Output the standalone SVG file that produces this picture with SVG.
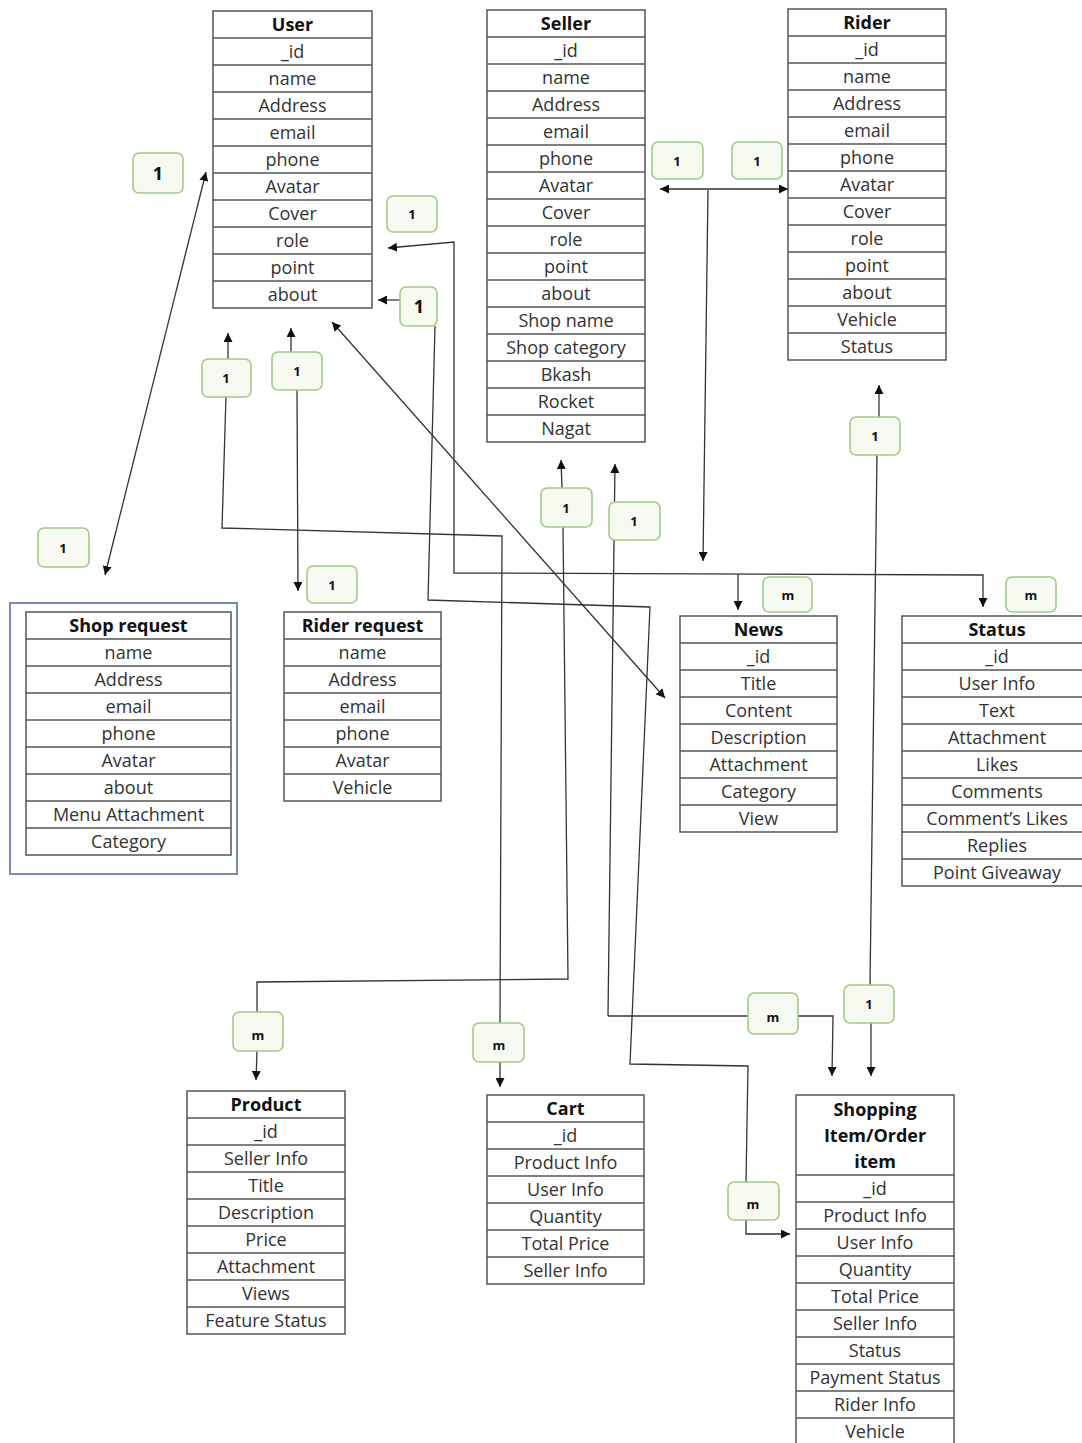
<svg xmlns="http://www.w3.org/2000/svg" width="1082" height="1443" viewBox="0 0 1082 1443">
<style>
.bg{fill:#fff}
.box{fill:#fff;stroke:#555;stroke-width:1.5}
.sep{fill:none;stroke:#555;stroke-width:1.5}
.frame{fill:none;stroke:#7b8bb0;stroke-width:2}
.t{font-family:"Open Sans","Liberation Sans",sans-serif;font-size:18px;fill:#333;text-anchor:middle}
.h{font-weight:bold;fill:#111}
.conn{fill:none;stroke:#333;stroke-width:1.3}
.lbl rect{fill:#f6faf1;stroke:#a2c986;stroke-width:1.6}
.lbl text{font-family:"Open Sans","Liberation Sans",sans-serif;font-size:13px;font-weight:bold;fill:#111;text-anchor:middle}
.lbl text.big{font-size:18px}
</style>
<defs>
<marker id="a" viewBox="0 0 10 10" refX="10" refY="5" markerWidth="9" markerHeight="9" markerUnits="userSpaceOnUse" orient="auto-start-reverse">
<path d="M0,0 L10,5 L0,10 z" fill="#111"/>
</marker>
</defs>
<rect class="bg" x="0" y="0" width="1082" height="1443"/>

<g id="connectors">
<path class="conn" d="M206,172 L105,575" marker-start="url(#a)" marker-end="url(#a)"/>
<path class="conn" d="M388,248 L454,242 L454,573 L983,575 L983,607" marker-start="url(#a)" marker-end="url(#a)"/>
<path class="conn" d="M738,574 L738,610" marker-end="url(#a)"/>
<path class="conn" d="M660,189 L788,189" marker-start="url(#a)" marker-end="url(#a)"/>
<path class="conn" d="M708,190 L703,561" marker-end="url(#a)"/>
<path class="conn" d="M400,300 L378,300" marker-end="url(#a)"/>
<path class="conn" d="M435,326 L428,600 L650,607 L630,1064 L748,1066 L746,1182"/>
<path class="conn" d="M746,1220 L746,1234 L790,1234" marker-end="url(#a)"/>
<path class="conn" d="M228,360 L228,333" marker-end="url(#a)"/>
<path class="conn" d="M226,396 L222,528 L502,536 L500,1023"/>
<path class="conn" d="M500,1062 L500,1087" marker-end="url(#a)"/>
<path class="conn" d="M291,353 L291,328" marker-end="url(#a)"/>
<path class="conn" d="M297,390 L298,591" marker-end="url(#a)"/>
<path class="conn" d="M332,322 L665,698" marker-start="url(#a)" marker-end="url(#a)"/>
<path class="conn" d="M562,488 L561,460" marker-end="url(#a)"/>
<path class="conn" d="M563,527 L568,979 L257,982 L257,1012"/>
<path class="conn" d="M257,1051 L256,1080" marker-end="url(#a)"/>
<path class="conn" d="M608,1016 L615,464" marker-end="url(#a)"/>
<path class="conn" d="M608,1016 L748,1016"/>
<path class="conn" d="M798,1016 L833,1016 L832,1076" marker-end="url(#a)"/>
<path class="conn" d="M879,417 L879,385" marker-end="url(#a)"/>
<path class="conn" d="M877,455 L870,985"/>
<path class="conn" d="M871,1023 L871,1076" marker-end="url(#a)"/>
</g>

<g id="labels">
<g class="lbl"><rect x="133" y="153" width="50" height="40" rx="6"/><text class="big" x="158" y="180">1</text></g>
<g class="lbl"><rect x="387" y="196" width="50" height="36" rx="6"/><text x="412" y="219">1</text></g>
<g class="lbl"><rect x="400" y="287" width="37" height="39" rx="6"/><text class="big" x="419" y="313">1</text></g>
<g class="lbl"><rect x="202" y="359" width="49" height="38" rx="6"/><text x="226" y="383">1</text></g>
<g class="lbl"><rect x="272" y="352" width="50" height="38" rx="6"/><text x="297" y="376">1</text></g>
<g class="lbl"><rect x="652" y="142" width="51" height="37" rx="6"/><text x="677" y="166">1</text></g>
<g class="lbl"><rect x="732" y="142" width="50" height="37" rx="6"/><text x="757" y="166">1</text></g>
<g class="lbl"><rect x="850" y="417" width="50" height="38" rx="6"/><text x="875" y="441">1</text></g>
<g class="lbl"><rect x="38" y="528" width="51" height="39" rx="6"/><text x="63" y="553">1</text></g>
<g class="lbl"><rect x="307" y="566" width="50" height="37" rx="6"/><text x="332" y="590">1</text></g>
<g class="lbl"><rect x="541" y="488" width="51" height="39" rx="6"/><text x="566" y="513">1</text></g>
<g class="lbl"><rect x="609" y="502" width="51" height="38" rx="6"/><text x="634" y="526">1</text></g>
<g class="lbl"><rect x="763" y="577" width="49" height="35" rx="6"/><text x="788" y="600">m</text></g>
<g class="lbl"><rect x="1006" y="577" width="50" height="35" rx="6"/><text x="1031" y="600">m</text></g>
<g class="lbl"><rect x="233" y="1012" width="50" height="39" rx="6"/><text x="258" y="1040">m</text></g>
<g class="lbl"><rect x="473" y="1023" width="51" height="39" rx="6"/><text x="499" y="1050">m</text></g>
<g class="lbl"><rect x="748" y="993" width="50" height="41" rx="6"/><text x="773" y="1022">m</text></g>
<g class="lbl"><rect x="844" y="985" width="50" height="38" rx="6"/><text x="869" y="1009">1</text></g>
<g class="lbl"><rect x="728" y="1182" width="51" height="38" rx="6"/><text x="753" y="1209">m</text></g>
</g>

<g id="user">
<rect class="box" x="213" y="11" width="159" height="297"/>
<path class="sep" d="M213,38H372M213,65H372M213,92H372M213,119H372M213,146H372M213,173H372M213,200H372M213,227H372M213,254H372M213,281H372"/>
<text class="t h" x="292.5" y="31">User</text>
<text class="t" x="292.5" y="58">_id</text>
<text class="t" x="292.5" y="85">name</text>
<text class="t" x="292.5" y="112">Address</text>
<text class="t" x="292.5" y="139">email</text>
<text class="t" x="292.5" y="166">phone</text>
<text class="t" x="292.5" y="193">Avatar</text>
<text class="t" x="292.5" y="220">Cover</text>
<text class="t" x="292.5" y="247">role</text>
<text class="t" x="292.5" y="274">point</text>
<text class="t" x="292.5" y="301">about</text>
</g>

<g id="seller">
<rect class="box" x="487" y="10" width="158" height="432"/>
<path class="sep" d="M487,37H645M487,64H645M487,91H645M487,118H645M487,145H645M487,172H645M487,199H645M487,226H645M487,253H645M487,280H645M487,307H645M487,334H645M487,361H645M487,388H645M487,415H645"/>
<text class="t h" x="566" y="30">Seller</text>
<text class="t" x="566" y="57">_id</text>
<text class="t" x="566" y="84">name</text>
<text class="t" x="566" y="111">Address</text>
<text class="t" x="566" y="138">email</text>
<text class="t" x="566" y="165">phone</text>
<text class="t" x="566" y="192">Avatar</text>
<text class="t" x="566" y="219">Cover</text>
<text class="t" x="566" y="246">role</text>
<text class="t" x="566" y="273">point</text>
<text class="t" x="566" y="300">about</text>
<text class="t" x="566" y="327">Shop name</text>
<text class="t" x="566" y="354">Shop category</text>
<text class="t" x="566" y="381">Bkash</text>
<text class="t" x="566" y="408">Rocket</text>
<text class="t" x="566" y="435">Nagat</text>
</g>

<g id="rider">
<rect class="box" x="788" y="9" width="158" height="351"/>
<path class="sep" d="M788,36H946M788,63H946M788,90H946M788,117H946M788,144H946M788,171H946M788,198H946M788,225H946M788,252H946M788,279H946M788,306H946M788,333H946"/>
<text class="t h" x="867" y="29">Rider</text>
<text class="t" x="867" y="56">_id</text>
<text class="t" x="867" y="83">name</text>
<text class="t" x="867" y="110">Address</text>
<text class="t" x="867" y="137">email</text>
<text class="t" x="867" y="164">phone</text>
<text class="t" x="867" y="191">Avatar</text>
<text class="t" x="867" y="218">Cover</text>
<text class="t" x="867" y="245">role</text>
<text class="t" x="867" y="272">point</text>
<text class="t" x="867" y="299">about</text>
<text class="t" x="867" y="326">Vehicle</text>
<text class="t" x="867" y="353">Status</text>
</g>

<g id="shop-request">
<rect class="frame" x="10" y="603" width="227" height="271"/>
<rect class="box" x="26" y="612" width="205" height="243"/>
<path class="sep" d="M26,639H231M26,666H231M26,693H231M26,720H231M26,747H231M26,774H231M26,801H231M26,828H231"/>
<text class="t h" x="128.5" y="632">Shop request</text>
<text class="t" x="128.5" y="659">name</text>
<text class="t" x="128.5" y="686">Address</text>
<text class="t" x="128.5" y="713">email</text>
<text class="t" x="128.5" y="740">phone</text>
<text class="t" x="128.5" y="767">Avatar</text>
<text class="t" x="128.5" y="794">about</text>
<text class="t" x="128.5" y="821">Menu Attachment</text>
<text class="t" x="128.5" y="848">Category</text>
</g>

<g id="rider-request">
<rect class="box" x="284" y="612" width="157" height="189"/>
<path class="sep" d="M284,639H441M284,666H441M284,693H441M284,720H441M284,747H441M284,774H441"/>
<text class="t h" x="362.5" y="632">Rider request</text>
<text class="t" x="362.5" y="659">name</text>
<text class="t" x="362.5" y="686">Address</text>
<text class="t" x="362.5" y="713">email</text>
<text class="t" x="362.5" y="740">phone</text>
<text class="t" x="362.5" y="767">Avatar</text>
<text class="t" x="362.5" y="794">Vehicle</text>
</g>

<g id="news">
<rect class="box" x="680" y="616" width="157" height="216"/>
<path class="sep" d="M680,643H837M680,670H837M680,697H837M680,724H837M680,751H837M680,778H837M680,805H837"/>
<text class="t h" x="758.5" y="636">News</text>
<text class="t" x="758.5" y="663">_id</text>
<text class="t" x="758.5" y="690">Title</text>
<text class="t" x="758.5" y="717">Content</text>
<text class="t" x="758.5" y="744">Description</text>
<text class="t" x="758.5" y="771">Attachment</text>
<text class="t" x="758.5" y="798">Category</text>
<text class="t" x="758.5" y="825">View</text>
</g>

<g id="status">
<rect class="box" x="902" y="616" width="190" height="270"/>
<path class="sep" d="M902,643H1092M902,670H1092M902,697H1092M902,724H1092M902,751H1092M902,778H1092M902,805H1092M902,832H1092M902,859H1092"/>
<text class="t h" x="997" y="636">Status</text>
<text class="t" x="997" y="663">_id</text>
<text class="t" x="997" y="690">User Info</text>
<text class="t" x="997" y="717">Text</text>
<text class="t" x="997" y="744">Attachment</text>
<text class="t" x="997" y="771">Likes</text>
<text class="t" x="997" y="798">Comments</text>
<text class="t" x="997" y="825">Comment’s Likes</text>
<text class="t" x="997" y="852">Replies</text>
<text class="t" x="997" y="879">Point Giveaway</text>
</g>

<g id="product">
<rect class="box" x="187" y="1091" width="158" height="243"/>
<path class="sep" d="M187,1118H345M187,1145H345M187,1172H345M187,1199H345M187,1226H345M187,1253H345M187,1280H345M187,1307H345"/>
<text class="t h" x="266" y="1111">Product</text>
<text class="t" x="266" y="1138">_id</text>
<text class="t" x="266" y="1165">Seller Info</text>
<text class="t" x="266" y="1192">Title</text>
<text class="t" x="266" y="1219">Description</text>
<text class="t" x="266" y="1246">Price</text>
<text class="t" x="266" y="1273">Attachment</text>
<text class="t" x="266" y="1300">Views</text>
<text class="t" x="266" y="1327">Feature Status</text>
</g>

<g id="cart">
<rect class="box" x="487" y="1095" width="157" height="189"/>
<path class="sep" d="M487,1122H644M487,1149H644M487,1176H644M487,1203H644M487,1230H644M487,1257H644"/>
<text class="t h" x="565.5" y="1115">Cart</text>
<text class="t" x="565.5" y="1142">_id</text>
<text class="t" x="565.5" y="1169">Product Info</text>
<text class="t" x="565.5" y="1196">User Info</text>
<text class="t" x="565.5" y="1223">Quantity</text>
<text class="t" x="565.5" y="1250">Total Price</text>
<text class="t" x="565.5" y="1277">Seller Info</text>
</g>

<g id="shopping-item">
<rect class="box" x="796" y="1095" width="158" height="350"/>
<path class="sep" d="M796,1175H954M796,1202H954M796,1229H954M796,1256H954M796,1283H954M796,1310H954M796,1337H954M796,1364H954M796,1391H954M796,1418H954"/>
<text class="t h" x="875" y="1116">Shopping</text>
<text class="t h" x="875" y="1142">Item/Order</text>
<text class="t h" x="875" y="1168">item</text>
<text class="t" x="875" y="1195">_id</text>
<text class="t" x="875" y="1222">Product Info</text>
<text class="t" x="875" y="1249">User Info</text>
<text class="t" x="875" y="1276">Quantity</text>
<text class="t" x="875" y="1303">Total Price</text>
<text class="t" x="875" y="1330">Seller Info</text>
<text class="t" x="875" y="1357">Status</text>
<text class="t" x="875" y="1384">Payment Status</text>
<text class="t" x="875" y="1411">Rider Info</text>
<text class="t" x="875" y="1438">Vehicle</text>
</g>
</svg>
